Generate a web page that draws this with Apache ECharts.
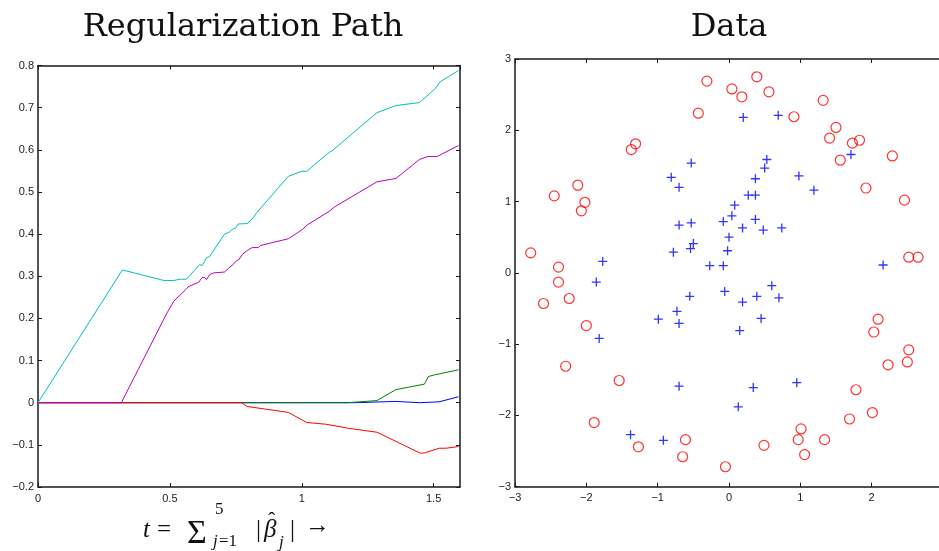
<!DOCTYPE html>
<html>
<head>
<meta charset="utf-8">
<script src="https://cdn.jsdelivr.net/npm/echarts@6/dist/echarts.min.js"></script>
<style>html,body{margin:0;padding:0;background:#fff;}#c{width:939px;height:551px;}</style>
</head>
<body>
<div id="c"></div>
<script>
// ---- Regularization path data: [t, coefficient] ----
var pathBlue = [[0,0],[1.20,0],[1.357,0.003],[1.446,0.0],[1.52,0.002],[1.594,0.014]];
var pathGreen = [[0,0],[1.174,0],[1.285,0.005],[1.357,0.031],[1.465,0.044],[1.48,0.062],[1.503,0.066],[1.594,0.078]];
var pathRed = [[0,0],[0.771,0],[0.793,-0.009],[0.949,-0.023],[1.019,-0.047],[1.091,-0.051],[1.18,-0.061],[1.285,-0.07],[1.45,-0.12],[1.465,-0.119],[1.522,-0.108],[1.547,-0.108],[1.594,-0.104]];
var pathMagenta = [[0,0],[0.316,0],[0.489,0.213],[0.515,0.241],[0.563,0.27],[0.569,0.275],[0.61,0.286],[0.622,0.297],[0.632,0.297],[0.639,0.292],[0.651,0.304],[0.666,0.308],[0.707,0.31],[0.724,0.32],[0.74,0.328],[0.753,0.337],[0.761,0.339],[0.775,0.352],[0.793,0.361],[0.812,0.368],[0.835,0.368],[0.844,0.373],[0.949,0.389],[1.003,0.411],[1.019,0.421],[1.104,0.454],[1.123,0.464],[1.285,0.524],[1.357,0.532],[1.446,0.577],[1.478,0.584],[1.513,0.584],[1.594,0.61]];
var pathCyan = [[0,0],[0.32,0.315],[0.477,0.29],[0.515,0.29],[0.54,0.293],[0.563,0.293],[0.613,0.328],[0.622,0.325],[0.639,0.344],[0.651,0.347],[0.707,0.40],[0.724,0.404],[0.74,0.413],[0.749,0.414],[0.759,0.424],[0.793,0.425],[0.812,0.436],[0.831,0.452],[0.949,0.537],[1.0,0.549],[1.019,0.549],[1.104,0.594],[1.114,0.597],[1.285,0.688],[1.357,0.705],[1.446,0.712],[1.506,0.745],[1.526,0.762],[1.555,0.773],[1.594,0.788]];

// ---- Scatter data: [x, y] ----
var classPlus = [[-0.53,1.54],[-0.81,1.34],[-0.70,1.20],[-0.53,0.70],[-0.70,0.67],[-0.50,0.41],[-0.54,0.34],[-0.78,0.29],[-1.77,0.16],[-0.27,0.10],[0.20,2.18],[0.69,2.21],[0.53,1.59],[0.50,1.47],[0.37,1.32],[0.98,1.36],[1.19,1.16],[1.71,1.66],[0.27,1.09],[0.37,1.09],[0.08,0.95],[0.04,0.80],[-0.08,0.72],[0.37,0.75],[0.19,0.63],[0.48,0.60],[0.74,0.63],[0.00,0.50],[-0.02,0.31],[-0.08,0.10],[2.16,0.11],[-1.86,-0.13],[-0.55,-0.33],[-0.73,-0.54],[-0.99,-0.65],[-0.70,-0.71],[-1.82,-0.92],[-0.70,-1.59],[-1.38,-2.27],[-0.92,-2.35],[-0.06,-0.26],[0.60,-0.18],[0.39,-0.33],[0.70,-0.35],[0.19,-0.41],[0.45,-0.64],[0.15,-0.81],[0.34,-1.61],[0.95,-1.54],[0.13,-1.88]];
var classCircle = [[-0.31,2.69],[-0.43,2.24],[-1.37,1.73],[-1.31,1.81],[-2.12,1.23],[-2.45,1.08],[-2.02,0.99],[-2.07,0.87],[-2.78,0.28],[-2.39,0.08],[0.04,2.58],[0.39,2.75],[0.18,2.47],[0.56,2.54],[0.91,2.19],[1.32,2.42],[1.50,2.04],[1.41,1.89],[1.73,1.82],[1.83,1.86],[1.56,1.58],[2.29,1.64],[1.92,1.19],[2.46,1.02],[2.52,0.22],[2.65,0.22],[-2.39,-0.13],[-2.60,-0.43],[-2.24,-0.36],[-2.00,-0.74],[-2.29,-1.31],[-1.54,-1.51],[-1.89,-2.10],[-1.27,-2.44],[-0.61,-2.34],[-0.65,-2.58],[2.09,-0.65],[2.03,-0.83],[2.52,-1.08],[2.50,-1.25],[2.23,-1.29],[1.78,-1.64],[2.01,-1.96],[1.69,-2.05],[1.01,-2.19],[0.97,-2.34],[1.34,-2.34],[1.06,-2.55],[0.49,-2.42],[-0.05,-2.72]];

var leftTitle = 'Regularization Path';
var rightTitle = 'Data';

var chart = echarts.init(document.getElementById('c'), null, {renderer:'canvas'});
var AX = '#1a1a1a';
var sans = 'Liberation Sans, Arial, sans-serif';
var serif = 'Liberation Serif, Times New Roman, serif';
var tserif = 'DejaVu Serif, serif';
function minus(s){ return String(s).replace('-', '\u2212'); }
function axisBase(show){
  return {
    axisLine:{show:true, onZero:false, lineStyle:{color:AX, width:1.5}},
    axisTick:{show:true, inside:true, length:4, lineStyle:{color:AX, width:1}},
    splitLine:{show:false},
    axisLabel:{show:show, color:'#222', fontFamily:sans, fontSize:11, margin:6}
  };
}
function mk(extra, show){ var o = axisBase(show); for (var k in extra) o[k]=extra[k]; return o; }

var leftX = {type:'value', min:0, max:1.6, interval:0.5};
var leftY = {type:'value', min:-0.2, max:0.8, interval:0.1};
var rightX = {type:'value', min:-3, max:3, interval:1};
var rightY = {type:'value', min:-3, max:3, interval:1};

function fmtHalf(v){ if (Math.abs(v*2-Math.round(v*2))>1e-6) return ''; return v===0?'0':minus(+v.toFixed(1)); }
function fmtTenth(v){ return Math.abs(v)<1e-9?'0':minus(v.toFixed(1)); }
function fmtInt(v){ return minus(Math.round(v)); }

function lineS(data, color){
  return {type:'line', xAxisIndex:0, yAxisIndex:0, data:data, showSymbol:false, symbol:'none',
    lineStyle:{color:color, width:1}, animation:false, silent:true};
}

var option = {
  animation:false,
  backgroundColor:'#fff',
  title:[
    {text:leftTitle, left:238, top:7, textAlign:'center', textStyle:{fontFamily:tserif, fontWeight:'normal', fontSize:32, color:'#111'}},
    {text:rightTitle, left:724, top:7, textAlign:'center', textStyle:{fontFamily:tserif, fontWeight:'normal', fontSize:32, color:'#111'}}
  ],
  grid:[
    {left:38, right:479, top:65.5, bottom:64, containLabel:false, outerBoundsMode:'none'},
    {left:515, width:428, top:59, bottom:64.3, containLabel:false, outerBoundsMode:'none'}
  ],
  xAxis:[
    mk(Object.assign({gridIndex:0, position:'bottom'}, leftX, {axisLabel:{show:true, color:'#222', fontFamily:sans, fontSize:11, margin:6, formatter:fmtHalf, showMaxLabel:false}}), true),
    mk(Object.assign({gridIndex:0, position:'top'}, leftX), false),
    mk(Object.assign({gridIndex:1, position:'bottom'}, rightX, {axisLabel:{show:true, color:'#222', fontFamily:sans, fontSize:11, margin:6, formatter:fmtInt}}), true),
    mk(Object.assign({gridIndex:1, position:'top'}, rightX), false)
  ],
  yAxis:[
    mk(Object.assign({gridIndex:0, position:'left'}, leftY, {axisLabel:{show:true, color:'#222', fontFamily:sans, fontSize:11, margin:4, formatter:fmtTenth}}), true),
    mk(Object.assign({gridIndex:0, position:'right'}, leftY), false),
    mk(Object.assign({gridIndex:1, position:'left'}, rightY, {axisLabel:{show:true, color:'#222', fontFamily:sans, fontSize:11, margin:4, formatter:fmtInt}}), true),
    mk(Object.assign({gridIndex:1, position:'right'}, rightY), false)
  ],
  series:[
    lineS(pathBlue, '#0000ff'),
    lineS(pathGreen, '#008000'),
    lineS(pathRed, '#ff0000'),
    lineS(pathMagenta, '#bf00bf'),
    lineS(pathCyan, '#00bfbf'),
    {type:'scatter', xAxisIndex:2, yAxisIndex:2, data:classCircle, symbol:'circle', symbolSize:10,
      itemStyle:{color:'rgba(0,0,0,0)', borderColor:'#ff0000', borderWidth:1.2}, silent:true},
    {type:'scatter', xAxisIndex:2, yAxisIndex:2, data:classPlus, symbol:'path://M0,5L10,5M5,0L5,10', symbolSize:9,
      itemStyle:{color:'rgba(0,0,0,0)', borderColor:'#0000ff', borderWidth:1.3}, silent:true}
  ],
  graphic:[
    {type:'text', left:143, top:518, style:{text:'t', font:'italic 25px '+serif, fill:'#111'}},
    {type:'text', left:157, top:518, style:{text:'=', font:'25px '+serif, fill:'#111'}},
    {type:'text', left:187, top:517, style:{text:'\u03A3', font:'34px '+serif, fill:'#111'}},
    {type:'text', left:215, top:501, style:{text:'5', font:'17px '+serif, fill:'#111'}},
    {type:'text', left:213, top:533, style:{text:'j', font:'italic 17px '+serif, fill:'#111'}},
    {type:'text', left:219, top:533, style:{text:'=1', font:'17px '+serif, fill:'#111'}},
    {type:'text', left:256, top:518, style:{text:'|', font:'25px '+serif, fill:'#111'}},
    {type:'text', left:264, top:518, style:{text:'\u03B2', font:'italic 25px '+serif, fill:'#111'}},
    {type:'text', left:268, top:510, style:{text:'\u02C6', font:'22px '+serif, fill:'#111'}},
    {type:'text', left:279, top:534, style:{text:'j', font:'italic 17px '+serif, fill:'#111'}},
    {type:'text', left:290, top:518, style:{text:'|', font:'25px '+serif, fill:'#111'}},
    {type:'text', left:305, top:514, style:{text:'\u2192', font:'25px '+serif, fill:'#111'}}
  ]
};
chart.setOption(option);
</script>
</body>
</html>
